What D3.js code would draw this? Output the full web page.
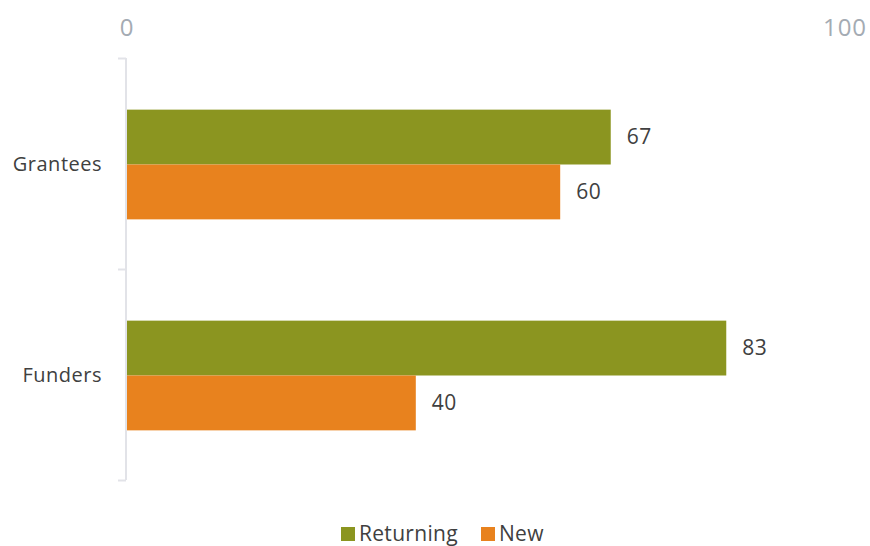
<!DOCTYPE html>
<html>
<head>
<meta charset="utf-8">
<script src="https://cdn.jsdelivr.net/npm/d3@7"></script>
<style>
  body { margin: 0; background: #fff; }
  svg { font-family: "Open Sans", "Noto Sans", sans-serif; }
</style>
</head>
<body>
<svg id="chart" width="870" height="546"></svg>
<script>
var categories = ["Grantees", "Funders"];
var seriesNames = ["Returning", "New"];
var returning = [67, 83];
var newer = [60, 40];
var xTicks = [0, 100];
var colors = ["#8b9520", "#e8821e"];

var data = categories.map((c, i) => ({cat: c, values: [returning[i], newer[i]]}));

var svg = d3.select("#chart"),
	margin = {top : 58, right : 21, bottom : 66, left : 127},
	width = +svg.attr("width"),
	height = +svg.attr("height");

var xScale = d3.scaleLinear()
	.domain([0, 100])
	.range([margin.left, width - margin.right]);

var yScale = d3.scaleBand()
	.domain(categories)
	.range([margin.top, height - margin.bottom])
	.paddingInner(0.48)
	.paddingOuter(0.24);

var inner = d3.scaleBand()
	.domain(seriesNames)
	.range([0, yScale.bandwidth()]);

// top axis labels (no line)
svg.append("g")
	.selectAll("text")
	.data(xTicks)
	.enter()
	.append("text")
	.attr("x", d => xScale(d))
	.attr("dx", (d, i) => i == xTicks.length - 1 ? -4 : 0)
	.attr("y", 36)
	.attr("text-anchor", "middle")
	.attr("font-size", "24px")
	.attr("letter-spacing", "1px")
	.attr("fill", "#a4abb3")
	.text(d => d);

// left axis
var yAxis = svg.append("g")
	.attr("transform", `translate(${margin.left - 1},0)`)
	.call(d3.axisLeft(d3.scaleLinear().domain([0, 2]).range([margin.top, height - margin.bottom]))
		.ticks(2).tickSize(8).tickFormat(""));
yAxis.select(".domain").remove();
yAxis.selectAll("line").attr("stroke", "#e2e3e8").attr("stroke-width", 2);
yAxis.append("line")
	.attr("y1", margin.top).attr("y2", height - margin.bottom)
	.attr("stroke", "#e2e3e8").attr("stroke-width", 2);

// category labels
svg.append("g")
	.selectAll("text")
	.data(categories)
	.enter()
	.append("text")
	.attr("x", 102)
	.attr("y", d => yScale(d) + yScale.bandwidth() / 2)
	.attr("dy", "0.35em")
	.attr("text-anchor", "end")
	.attr("font-size", "20px")
	.attr("letter-spacing", "0.5px")
	.attr("fill", "#404040")
	.text(d => d);

var group = svg.selectAll("g.cat")
	.data(data)
	.enter()
	.append("g")
	.attr("class", "cat")
	.attr("transform", d => `translate(0,${yScale(d.cat)})`);

group.selectAll("rect")
	.data(d => d.values)
	.enter()
	.append("rect")
	.attr("x", xScale(0))
	.attr("y", (d, i) => inner(seriesNames[i]) + 1)
	.attr("width", d => xScale(d) - xScale(0))
	.attr("height", inner.bandwidth())
	.attr("fill", (d, i) => colors[i]);

group.selectAll("text")
	.data(d => d.values)
	.enter()
	.append("text")
	.attr("x", d => xScale(d) + 16)
	.attr("y", (d, i) => inner(seriesNames[i]) + inner.bandwidth() / 2 + 1)
	.attr("dy", "0.35em")
	.attr("font-size", "21px")
	.attr("letter-spacing", "0.5px")
	.attr("fill", "#404040")
	.text(d => d);

// legend
var legend = svg.append("g")
	.attr("transform", "translate(341, 534)")
	.attr("font-size", "21px")
	.attr("fill", "#404040");

var legendX = [0, 140];
seriesNames.forEach((s, i) => {
	legend.append("rect")
		.attr("x", legendX[i])
		.attr("y", -7)
		.attr("width", 14)
		.attr("height", 14)
		.attr("fill", colors[i]);
	legend.append("text")
		.attr("x", legendX[i] + 18)
		.attr("dy", "0.35em")
		.attr("letter-spacing", "0.3px")
		.text(s);
});
</script>
</body>
</html>
